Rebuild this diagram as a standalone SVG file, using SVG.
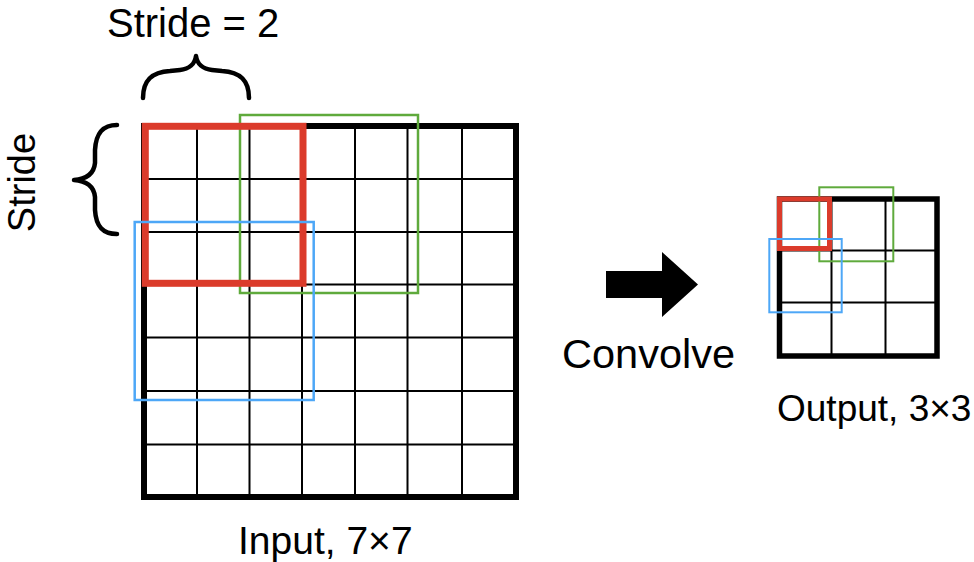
<svg xmlns="http://www.w3.org/2000/svg" width="974" height="562" viewBox="0 0 974 562">
  <style>
    .lbl { font-family: "Liberation Sans", Arial, Helvetica, sans-serif; fill: #000; }
    .grid { stroke: #000; stroke-width: 2; fill: none; }
    .frame { stroke: #000; fill: none; }
    .brace { stroke: #000; stroke-width: 4.5; fill: none; stroke-linecap: round; stroke-linejoin: round; }
    .red { stroke: #DB3B2B; fill: none; }
    .green { stroke: #5FAA3C; fill: none; }
    .blue { stroke: #4DA7F7; fill: none; }
  </style>
  <rect width="974" height="562" fill="#fff"/>

  <g id="stride-top">
    <text class="lbl" x="107" y="37" font-size="40">Stride = 2</text>
    <path class="brace" d="M143,98 C143,80 152,72 170,71 L180,70 C189,69 195,64 196,56 C197,64 203,69 212,70 L222,71 C240,72 249,80 249,98"/>
  </g>

  <g id="stride-left">
    <text class="lbl" font-size="38" text-anchor="middle" transform="translate(35,182.5) rotate(-90)">Stride</text>
    <path class="brace" d="M117,125 C103,125 96,133 95,150 L95,163 C94,173 88,179 74,180 C88,181 94,187 95,197 L95,210 C96,227 103,234 117,234"/>
  </g>

  <g id="input-grid">
    <path class="grid" d="M197,126V497 M249.5,126V497 M302,126V497 M355,126V497 M407.5,126V497 M462,126V497 M144,179H516 M144,232H516 M144,284.5H516 M144,337.5H516 M144,391H516 M144,444.5H516"/>
    <rect class="frame" x="144" y="126" width="372" height="371" stroke-width="6"/>
    <rect class="green" x="240" y="115" width="178" height="178" stroke-width="2.5"/>
    <rect class="red" x="145.3" y="126.3" width="157.7" height="157" stroke-width="7"/>
    <rect class="blue" x="134.7" y="222" width="179" height="178" stroke-width="2.5"/>
    <text class="lbl" x="238" y="553.5" font-size="39">Input, 7×7</text>
  </g>

  <g id="connectors">
    <polygon points="606,271 662,271 662,252 698,284.5 662,317 662,298 606,298" fill="#000"/>
  </g>
  <g id="convolve-label">
    <text class="lbl" x="562" y="368" font-size="41.5">Convolve</text>
  </g>

  <g id="output-grid">
    <path class="grid" d="M831.5,199V356 M885.5,199V356 M779.5,250.5H937 M779.5,302.5H937"/>
    <rect class="frame" x="779.5" y="199" width="157.5" height="157" stroke-width="5.5"/>
    <rect class="green" x="819.3" y="187.3" width="74" height="74" stroke-width="2"/>
    <rect class="red" x="779.5" y="199" width="50" height="49.5" stroke-width="5"/>
    <rect class="blue" x="769.3" y="239" width="72.4" height="73.3" stroke-width="2"/>
    <text class="lbl" x="777" y="421" font-size="37">Output, 3×3</text>
  </g>
</svg>
